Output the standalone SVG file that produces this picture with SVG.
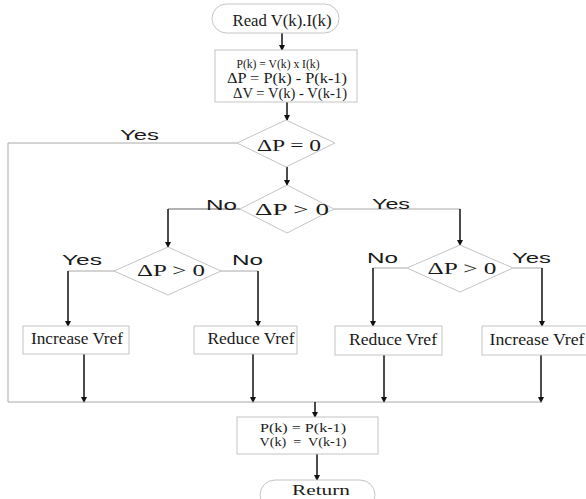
<svg xmlns="http://www.w3.org/2000/svg" width="586" height="499" viewBox="0 0 586 499">
<style>
.shape{fill:#fff;stroke:#c4c4c4;stroke-width:1}
.t{font-family:"Liberation Serif","Times New Roman",serif;fill:#1a1a1a;text-anchor:middle}
.lab{font-family:"Liberation Sans",Arial,sans-serif;fill:#1a1a1a;font-size:15px}
.gl{fill:none;stroke:#a8a8a8;stroke-width:1}
.ar{fill:none;stroke:#111;stroke-width:1.5;marker-end:url(#ah)}
</style>
<defs>
<marker id="ah" markerWidth="6" markerHeight="7" refX="5" refY="3.5" orient="auto" markerUnits="userSpaceOnUse">
<path d="M0,0.5 L6,3.5 L0,6.5 Z" fill="#111"/>
</marker>
</defs>
<rect width="586" height="499" fill="#fff"/>
<g id="connectors">
<line class="ar" x1="282" y1="33" x2="282" y2="50"/>
<line class="ar" x1="287" y1="102" x2="287" y2="120"/>
<polyline class="gl" points="237,143 8,143 8,402"/>
<line class="ar" x1="287" y1="167" x2="287" y2="185"/>
<polyline points="240,209 168,209" fill="none" stroke="#666" stroke-width="1"/>
<line class="ar" x1="168" y1="209" x2="168" y2="247"/>
<polyline class="gl" points="334,209 460,209"/>
<line class="ar" x1="460" y1="209" x2="460" y2="245"/>
<polyline class="gl" points="114,271 68,271"/>
<line class="ar" x1="68" y1="271" x2="68" y2="326"/>
<polyline class="gl" points="221,271 258,271"/>
<line class="ar" x1="258" y1="271" x2="258" y2="326"/>
<polyline class="gl" points="407,268 373,268"/>
<line class="ar" x1="373" y1="268" x2="373" y2="326"/>
<polyline class="gl" points="513,268 542,268"/>
<line class="ar" x1="542" y1="268" x2="542" y2="326"/>
<line class="ar" x1="84" y1="354" x2="84" y2="402"/>
<line class="ar" x1="253" y1="354" x2="253" y2="402"/>
<line class="ar" x1="384" y1="354" x2="384" y2="402"/>
<line class="ar" x1="541" y1="354" x2="541" y2="402"/>
<line class="gl" x1="8" y1="402" x2="542" y2="402"/>
<line class="ar" x1="315" y1="402" x2="315" y2="417"/>
<line class="ar" x1="317" y1="454" x2="317" y2="480"/>
<text class="lab" x="120" y="140" textLength="39" lengthAdjust="spacingAndGlyphs">Yes</text>
<text class="lab" x="206" y="210" textLength="31" lengthAdjust="spacingAndGlyphs">No</text>
<text class="lab" x="372" y="209" textLength="38" lengthAdjust="spacingAndGlyphs">Yes</text>
<text class="lab" x="62" y="265" textLength="40" lengthAdjust="spacingAndGlyphs">Yes</text>
<text class="lab" x="232" y="265" textLength="31" lengthAdjust="spacingAndGlyphs">No</text>
<text class="lab" x="367" y="263" textLength="31" lengthAdjust="spacingAndGlyphs">No</text>
<text class="lab" x="512" y="263" textLength="39" lengthAdjust="spacingAndGlyphs">Yes</text>
</g>
<g id="start">
<rect class="shape" x="212" y="4" width="127" height="29" rx="14.5"/>
<text class="t" x="282" y="26" font-size="17" textLength="99" lengthAdjust="spacingAndGlyphs">Read V(k).I(k)</text>
</g>
<g id="compute">
<rect class="shape" x="215" y="50" width="142" height="52"/>
<text class="t" x="278" y="68" font-size="13.5" textLength="83" lengthAdjust="spacingAndGlyphs">P(k) = V(k) x I(k)</text>
<text class="t" x="287" y="83" font-size="14.5" textLength="120" lengthAdjust="spacingAndGlyphs">ΔP = P(k) - P(k-1)</text>
<text class="t" x="290" y="98" font-size="14.5" textLength="114" lengthAdjust="spacingAndGlyphs">ΔV = V(k) - V(k-1)</text>
</g>
<g id="d1">
<polygon class="shape" points="286,120 335,143 286,167 237,143"/>
<text class="t" x="289" y="151" font-size="16" textLength="64" lengthAdjust="spacingAndGlyphs">ΔP = 0</text>
</g>
<g id="d2">
<polygon class="shape" points="287,185 334,209 287,233 240,209"/>
<text class="t" x="292" y="215" font-size="16" textLength="74" lengthAdjust="spacingAndGlyphs">ΔP &gt; 0</text>
</g>
<g id="d3">
<polygon class="shape" points="168,247 221,271 168,295 114,271"/>
<text class="t" x="171" y="276" font-size="16" textLength="68" lengthAdjust="spacingAndGlyphs">ΔP &gt; 0</text>
</g>
<g id="d4">
<polygon class="shape" points="460,245 513,268 460,292 407,268"/>
<text class="t" x="462" y="274" font-size="16" textLength="69" lengthAdjust="spacingAndGlyphs">ΔP &gt; 0</text>
</g>
<g id="inc1">
<rect class="shape" x="23" y="326" width="106" height="28"/>
<text class="t" x="77" y="344" font-size="17" textLength="92" lengthAdjust="spacingAndGlyphs">Increase Vref</text>
</g>
<g id="red1">
<rect class="shape" x="194" y="326" width="103" height="28"/>
<text class="t" x="251" y="344" font-size="17" textLength="87" lengthAdjust="spacingAndGlyphs">Reduce Vref</text>
</g>
<g id="red2">
<rect class="shape" x="335" y="326" width="107" height="29"/>
<text class="t" x="393" y="345" font-size="17" textLength="88" lengthAdjust="spacingAndGlyphs">Reduce Vref</text>
</g>
<g id="inc2">
<rect class="shape" x="482" y="326" width="110" height="29"/>
<text class="t" x="537" y="345" font-size="17" textLength="95" lengthAdjust="spacingAndGlyphs">Increase Vref</text>
</g>
<g id="update">
<rect class="shape" x="237" y="417" width="141" height="37"/>
<text class="t" x="303" y="432" font-size="13" textLength="86" lengthAdjust="spacingAndGlyphs">P(k) = P(k-1)</text>
<text class="t" x="303" y="446" font-size="13" textLength="87" lengthAdjust="spacingAndGlyphs" xml:space="preserve">V(k)  =  V(k-1)</text>
</g>
<g id="return">
<rect class="shape" x="260" y="480" width="115" height="30" rx="15"/>
<text class="t" x="321" y="495" font-size="15" textLength="58" lengthAdjust="spacingAndGlyphs">Return</text>
</g>
</svg>
